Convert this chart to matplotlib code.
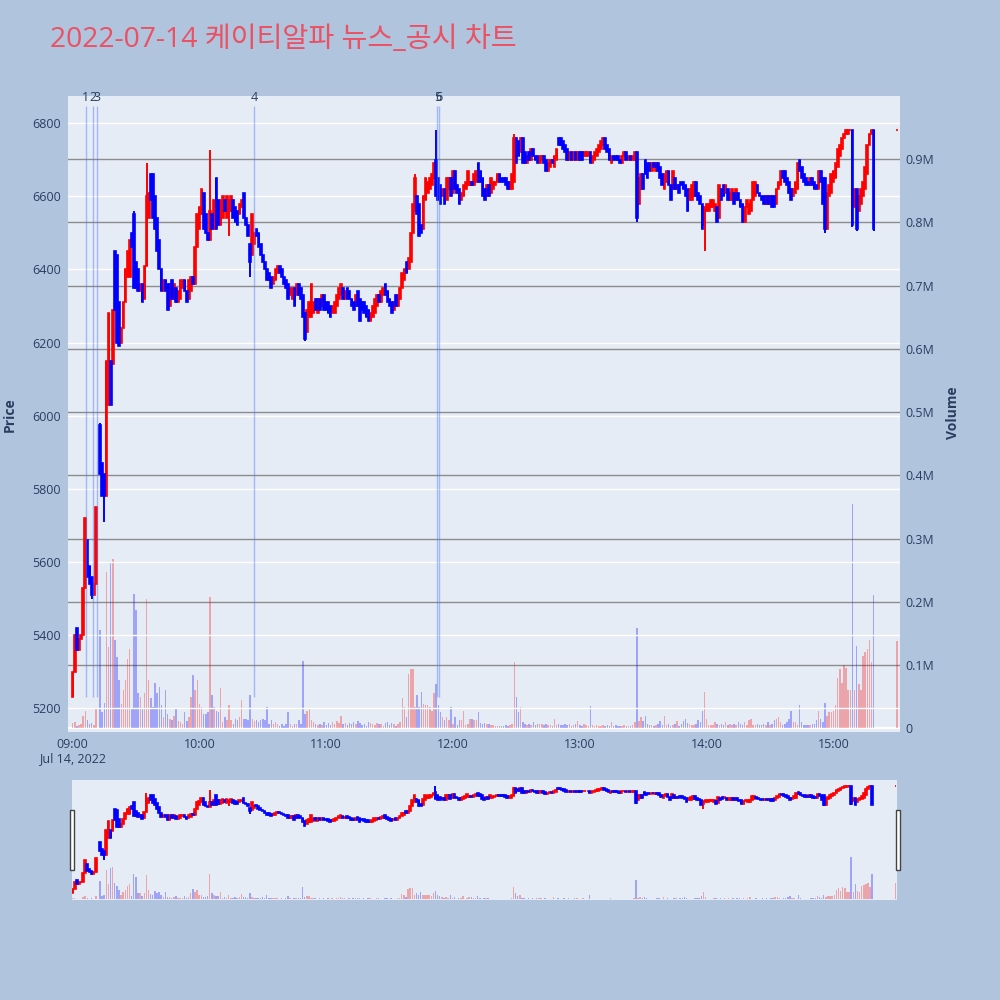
import numpy as np
import matplotlib
matplotlib.use("Agg")
import matplotlib.pyplot as plt
from matplotlib.patches import Rectangle

plt.rcParams['font.family'] = ['Open Sans', 'Noto Sans CJK KR', 'DejaVu Sans']

TITLE = "2022-07-14 케이티알파 뉴스_공시 차트"

# minute offsets from 09:00 (continuous session to 15:19, closing auction at 15:30)
minutes = list(range(380)) + [390]

# one-minute OHLC; None marks the 09:12 trading halt
opens = [
    5230, 5300, 5420, 5360, 5390, 5400, 5530, 5660, 5590, 5560,
    5510, 5540, None, 5975, 5870, 5840, 5780, 6030, 6150, 6140,
    6450, 6440, 6310, 6200, 6240, 6310, 6380, 6380, 6500, 6550,
    6420, 6400, 6340, 6360, 6320, 6410, 6540, 6660, 6660, 6600,
    6540, 6480, 6400, 6340, 6370, 6360, 6300, 6370, 6320, 6350,
    6310, 6320, 6350, 6370, 6340, 6320, 6340, 6380, 6360, 6460,
    6510, 6550, 6610, 6550, 6500, 6480, 6550, 6510, 6650, 6590,
    6520, 6540, 6590, 6540, 6560, 6560, 6590, 6570, 6560, 6550,
    6570, 6610, 6540, 6520, 6470, 6440, 6470, 6510, 6500, 6470,
    6440, 6420, 6400, 6390, 6380, 6360, 6370, 6390, 6410, 6400,
    6380, 6370, 6360, 6330, 6320, 6350, 6330, 6360, 6350, 6330,
    6280, 6230, 6270, 6270, 6280, 6320, 6280, 6320, 6300, 6330,
    6310, 6310, 6300, 6280, 6280, 6300, 6320, 6330, 6350, 6320,
    6350, 6340, 6320, 6310, 6300, 6340, 6320, 6310, 6310, 6300,
    6290, 6260, 6270, 6280, 6300, 6330, 6310, 6330, 6360, 6340,
    6320, 6310, 6290, 6330, 6300, 6320, 6350, 6370, 6420, 6400,
    6420, 6500, 6560, 6600, 6580, 6520, 6510, 6590, 6610, 6620,
    6630, 6650, 6700, 6650, 6630, 6600, 6620, 6590, 6620, 6650,
    6610, 6670, 6630, 6620, 6590, 6600, 6620, 6630, 6630, 6640,
    6630, 6640, 6690, 6670, 6650, 6620, 6600, 6630, 6610, 6620,
    6630, 6640, 6660, 6650, 6650, 6650, 6640, 6620, 6620, 6640,
    6760, 6750, 6720, 6760, 6720, 6690, 6720, 6700, 6730, 6710,
    6710, 6690, 6700, 6710, 6700, 6670, 6680, 6700, 6680, 6700,
    6760, 6760, 6750, 6740, 6730, 6700, 6720, 6700, 6720, 6700,
    6720, 6720, 6710, 6710, 6710, 6720, 6690, 6700, 6710, 6720,
    6730, 6740, 6760, 6740, 6730, 6690, 6710, 6710, 6710, 6700,
    6690, 6710, 6720, 6700, 6710, 6700, 6700, 6720, 6580, 6620,
    6660, 6700, 6690, 6690, 6670, 6690, 6670, 6690, 6680, 6660,
    6620, 6640, 6670, 6630, 6620, 6650, 6620, 6630, 6640, 6640,
    6630, 6620, 6590, 6590, 6600, 6640, 6610, 6600, 6580, 6520,
    6560, 6560, 6570, 6570, 6560, 6570, 6540, 6620, 6630, 6610,
    6620, 6590, 6590, 6610, 6590, 6610, 6590, 6580, 6530, 6570,
    6550, 6560, 6590, 6600, 6630, 6610, 6600, 6600, 6580, 6600,
    6580, 6600, 6600, 6580, 6620, 6630, 6670, 6670, 6650, 6640,
    6620, 6600, 6610, 6620, 6700, 6680, 6660, 6650, 6640, 6630,
    6650, 6640, 6630, 6620, 6670, 6650, 6650, 6510, 6600, 6610,
    6640, 6650, 6680, 6710, 6730, 6760, 6770, 6770, 6780, 6780,
    6570, 6620, 6560, 6580, 6600, 6620, 6660, 6740, 6770, 6780,
    6780,
]

closes = [
    5300, 5400, 5360, 5390, 5400, 5530, 5720, 5560, 5540, 5510,
    5540, 5750, None, 5840, 5780, 5780, 6150, 6280, 6030, 6290,
    6290, 6200, 6190, 6240, 6310, 6400, 6450, 6480, 6460, 6350,
    6350, 6340, 6360, 6310, 6410, 6600, 6610, 6590, 6540, 6510,
    6450, 6400, 6340, 6370, 6340, 6290, 6360, 6320, 6360, 6310,
    6340, 6370, 6370, 6340, 6310, 6370, 6380, 6360, 6460, 6550,
    6570, 6620, 6510, 6500, 6480, 6560, 6510, 6590, 6510, 6520,
    6590, 6600, 6560, 6600, 6590, 6600, 6540, 6530, 6520, 6580,
    6590, 6540, 6520, 6490, 6420, 6550, 6500, 6490, 6460, 6440,
    6420, 6400, 6370, 6370, 6350, 6380, 6400, 6410, 6390, 6380,
    6360, 6350, 6320, 6350, 6350, 6300, 6360, 6330, 6320, 6270,
    6210, 6290, 6310, 6360, 6310, 6290, 6320, 6290, 6330, 6290,
    6290, 6280, 6270, 6300, 6310, 6330, 6350, 6360, 6320, 6340,
    6320, 6320, 6300, 6290, 6330, 6300, 6260, 6290, 6280, 6270,
    6260, 6280, 6300, 6320, 6330, 6310, 6340, 6350, 6330, 6310,
    6300, 6280, 6310, 6300, 6330, 6350, 6390, 6400, 6390, 6430,
    6500, 6580, 6650, 6550, 6490, 6500, 6600, 6650, 6640, 6650,
    6660, 6690, 6600, 6590, 6580, 6620, 6580, 6650, 6650, 6600,
    6670, 6620, 6610, 6580, 6610, 6630, 6640, 6670, 6640, 6630,
    6660, 6670, 6640, 6640, 6600, 6590, 6630, 6600, 6650, 6640,
    6640, 6660, 6640, 6640, 6640, 6630, 6620, 6640, 6660, 6760,
    6690, 6710, 6760, 6690, 6690, 6710, 6700, 6730, 6710, 6700,
    6690, 6710, 6710, 6690, 6670, 6690, 6700, 6690, 6710, 6730,
    6740, 6740, 6730, 6720, 6700, 6720, 6700, 6720, 6700, 6720,
    6700, 6700, 6720, 6720, 6720, 6690, 6710, 6720, 6730, 6740,
    6750, 6760, 6730, 6720, 6700, 6710, 6700, 6700, 6700, 6690,
    6710, 6720, 6700, 6710, 6700, 6710, 6720, 6540, 6650, 6660,
    6620, 6660, 6650, 6670, 6690, 6680, 6690, 6670, 6650, 6630,
    6660, 6670, 6630, 6590, 6670, 6620, 6630, 6610, 6630, 6620,
    6600, 6560, 6620, 6630, 6640, 6600, 6590, 6580, 6510, 6570,
    6580, 6580, 6590, 6590, 6580, 6530, 6630, 6590, 6600, 6630,
    6590, 6610, 6620, 6580, 6620, 6590, 6570, 6530, 6570, 6590,
    6580, 6590, 6640, 6640, 6610, 6600, 6590, 6580, 6600, 6580,
    6600, 6570, 6570, 6620, 6640, 6670, 6650, 6640, 6630, 6610,
    6590, 6620, 6640, 6690, 6670, 6650, 6640, 6630, 6630, 6650,
    6630, 6620, 6620, 6670, 6640, 6580, 6510, 6610, 6630, 6660,
    6670, 6690, 6730, 6740, 6760, 6770, 6780, 6780, 6780, 6520,
    6620, 6510, 6600, 6620, 6640, 6680, 6740, 6770, 6780, 6510,
    6780,
]

# intraminute extremes that reach beyond the candle body
wick_high = {13: 5980, 29: 6560, 35: 6690, 65: 6725, 68: 6650, 85: 6550,
             162: 6660, 172: 6780, 209: 6770}
wick_low = {9: 5500, 15: 5710, 74: 6490, 84: 6380, 110: 6205, 267: 6530,
            299: 6450, 356: 6500, 369: 6515, 371: 6505, 379: 6505}

# traded volume per minute, thousands of shares
volumes_k = [
    8, 10, 4, 5, 6, 20, 28, 13, 6, 8,
    5, 31, 0, 155, 26, 40, 247, 129, 263, 268,
    139, 113, 76, 39, 60, 76, 110, 126, 31, 213,
    187, 55, 50, 31, 55, 205, 76, 47, 34, 71,
    55, 65, 36, 18, 60, 23, 15, 13, 20, 31,
    12, 10, 7, 26, 12, 18, 50, 84, 60, 76,
    39, 34, 23, 23, 26, 208, 52, 34, 28, 26,
    64, 10, 18, 13, 36, 13, 7, 15, 13, 18,
    44, 15, 15, 13, 52, 15, 12, 13, 10, 13,
    15, 13, 34, 7, 13, 7, 10, 7, 4, 7,
    4, 7, 26, 7, 4, 7, 7, 13, 7, 107,
    23, 28, 31, 13, 10, 7, 5, 7, 5, 10,
    5, 8, 5, 10, 6, 12, 8, 20, 7, 9,
    5, 8, 6, 10, 7, 12, 9, 5, 7, 4,
    10, 8, 6, 5, 9, 7, 6, 4, 8, 10,
    5, 9, 6, 4, 7, 10, 47, 34, 18, 86,
    94, 94, 34, 52, 34, 57, 39, 36, 36, 34,
    28, 55, 70, 36, 26, 18, 13, 18, 13, 34,
    7, 18, 5, 13, 13, 28, 5, 7, 15, 15,
    13, 13, 26, 8, 6, 8, 7, 7, 5, 5,
    3, 4, 3, 4, 3, 5, 3, 5, 7, 105,
    50, 26, 34, 10, 7, 5, 7, 5, 10, 5,
    7, 7, 7, 5, 7, 5, 5, 3, 15, 5,
    7, 5, 5, 7, 5, 7, 3, 5, 7, 12,
    5, 4, 7, 5, 3, 35, 5, 3, 5, 4,
    3, 5, 3, 5, 4, 10, 3, 5, 3, 4,
    3, 5, 3, 4, 3, 5, 10, 159, 12, 18,
    12, 20, 7, 5, 5, 4, 5, 7, 12, 5,
    20, 5, 7, 4, 5, 7, 12, 4, 7, 12,
    15, 8, 6, 5, 5, 7, 13, 10, 28, 58,
    15, 5, 5, 5, 10, 7, 5, 7, 5, 10,
    5, 7, 5, 7, 5, 10, 7, 5, 10, 5,
    13, 15, 5, 5, 7, 5, 5, 7, 5, 10,
    5, 7, 13, 15, 18, 10, 5, 7, 10, 15,
    28, 10, 10, 5, 36, 10, 5, 5, 5, 5,
    7, 7, 13, 28, 15, 10, 40, 20, 26, 26,
    28, 36, 79, 94, 71, 100, 95, 60, 60, 355,
    60, 130, 70, 60, 115, 120, 125, 140, 105, 210,
    138,
]

hour_labels = ["09:00\nJul 14, 2022", "10:00", "11:00", "12:00", "13:00", "14:00", "15:00"]
hour_offsets = [0, 60, 120, 180, 240, 300, 360]

price_ticks = [5200, 5400, 5600, 5800, 6000, 6200, 6400, 6600, 6800]
volume_ticks_m = [0.1, 0.2, 0.3, 0.4, 0.5, 0.6, 0.7, 0.8, 0.9]

# news / disclosure markers (minutes after 09:00)
news_ids = ["1", "2", "3", "4", "5", "6"]
news_minutes = [6.3, 9.7, 11.6, 85.8, 172.6, 173.4]

BG = '#B0C4DE'
PLOT_BG = '#E5ECF6'
RED = '#FF0000'
BLUE = '#0000FF'
TXT = '#2a3f5f'

t = np.array(minutes, float)
o = np.array([np.nan if x is None else x for x in opens], float)
c = np.array([np.nan if x is None else x for x in closes], float)
vol = np.array(volumes_k, float) / 1000.0

hi = np.fmax(o, c)
lo = np.fmin(o, c)
for m, p in wick_high.items():
    hi[minutes.index(m)] = p
for m, p in wick_low.items():
    lo[minutes.index(m)] = p

valid = ~np.isnan(o)
up = np.zeros_like(valid)
dn = np.zeros_like(valid)
up[valid] = c[valid] >= o[valid]
dn[valid] = c[valid] < o[valid]

PRICE_LIM = (5135, 6874)
VOL_LIM = (-0.006, 1.0)


def draw_candles(a):
    for m, col in ((up, RED), (dn, BLUE)):
        a.vlines(t[m], lo[m], hi[m], colors=col, linewidth=1.4, zorder=3)
        a.bar(t[m], np.abs(c - o)[m], bottom=np.fmin(o, c)[m], width=0.8,
              color=col, edgecolor=col, linewidth=1.2, zorder=4)


def draw_volume(a):
    for m, col in ((up, RED), (dn, BLUE)):
        a.bar(t[m], vol[m], width=0.7, color=col, alpha=0.3, linewidth=0, zorder=2)


fig = plt.figure(figsize=(10, 10), dpi=100, facecolor=BG)

# ---- main panel: volume underneath, price candles on top ----
vax = fig.add_axes([0.068, 0.268, 0.832, 0.636])
ax = vax.twinx()
vax.set_zorder(1)
ax.set_zorder(2)
ax.patch.set_visible(False)
vax.set_facecolor(PLOT_BG)

draw_volume(vax)
vax.set_ylim(*VOL_LIM)
vax.set_yticks([0] + volume_ticks_m)
vax.set_yticklabels(["0"] + [f"{x:.1f}M" for x in volume_ticks_m])
vax.yaxis.tick_right()
vax.grid(False)
for y in volume_ticks_m:
    vax.axhline(y, color='#8c8c8c', linewidth=1.0, zorder=1)
vax.axhline(0, color='white', linewidth=1.6, zorder=1)

draw_candles(ax)
ax.set_ylim(*PRICE_LIM)
ax.yaxis.tick_left()
ax.set_yticks(price_ticks)
ax.set_yticklabels([str(p) for p in price_ticks])
for p in price_ticks:
    ax.axhline(p, color='white', linewidth=1.0, zorder=0.5)

vax.set_xlim(-2.2, 391.5)
vax.set_xticks(hour_offsets)
vax.set_xticklabels(hour_labels)
ax.tick_params(axis='x', bottom=False, labelbottom=False, top=False, labeltop=False)

for a in (ax, vax):
    for s in a.spines.values():
        s.set_visible(False)
    a.tick_params(length=0, labelsize=9, colors=TXT)
ax.tick_params(axis='y', pad=5)
vax.tick_params(axis='y', pad=4)
vax.tick_params(axis='x', pad=4, labelbottom=True)

xt = ax.get_xaxis_transform()
ax.vlines(news_minutes, 0.055, 0.984, transform=xt, colors=(0.33, 0.47, 0.93),
          alpha=0.45, linewidth=1.0, zorder=6)
for nid, m in zip(news_ids, news_minutes):
    ax.text(m, 0.998, nid, transform=xt, ha='center', va='center',
            fontsize=9, color=TXT, zorder=7, clip_on=False)

# ---- range slider overview ----
svax = fig.add_axes([0.0715, 0.100, 0.825, 0.120])
sax = svax.twinx()
svax.set_zorder(1)
sax.set_zorder(2)
sax.patch.set_visible(False)
svax.set_facecolor(PLOT_BG)
draw_volume(svax)
draw_candles(sax)
svax.set_ylim(*VOL_LIM)
sax.set_ylim(*PRICE_LIM)
for a in (sax, svax):
    a.set_xlim(-0.5, 390.5)
    a.set_xticks([])
    a.set_yticks([])
    for s in a.spines.values():
        s.set_visible(False)

for x0 in (0.0695, 0.8955):
    fig.patches.append(Rectangle((x0, 0.130), 0.004, 0.060, transform=fig.transFigure,
                                 facecolor='white', edgecolor='#444444', linewidth=1.0))

# ---- titles ----
fig.text(0.050, 0.960, TITLE, fontsize=20.3, color='#EB5063', ha='left', va='center')
fig.text(0.010, 0.585, "Price", rotation=90, fontsize=10, fontweight='bold',
         color=TXT, ha='center', va='center')
fig.text(0.953, 0.587, "Volume", rotation=90, fontsize=10, fontweight='bold',
         color=TXT, ha='center', va='center')

fig.savefig("out.png", dpi=100, facecolor=BG)
